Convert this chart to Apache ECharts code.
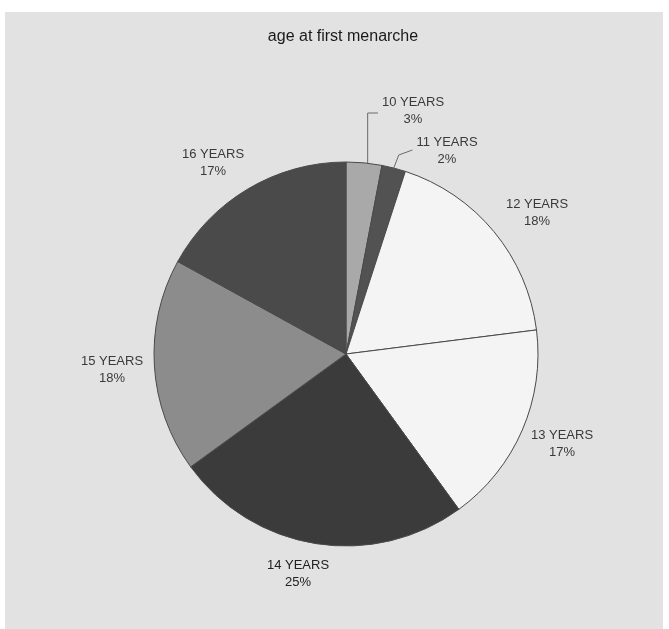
<!DOCTYPE html>
<html>
<head>
<meta charset="utf-8">
<title>age at first menarche</title>
<script src="https://cdn.jsdelivr.net/npm/echarts@6/dist/echarts.min.js"></script>
<style>
  html, body { margin: 0; padding: 0; background: #ffffff; }
  #chart { width: 669px; height: 629px; }
</style>
</head>
<body>
<div id="chart"></div>
<script>
// Age groups and the share of respondents (percent) in each
const categories = ['10 YEARS', '11 YEARS', '12 YEARS', '13 YEARS', '14 YEARS', '15 YEARS', '16 YEARS'];
const shares = [3, 2, 18, 17, 25, 18, 17];
const titleText = 'age at first menarche';

// Greyscale fills for each slice, in category order
const sliceColors = ['#a9a9a9', '#525252', '#f4f4f4', '#f4f4f4', '#3b3b3b', '#8c8c8c', '#4a4a4a'];

// Pie geometry
const CX = 346, CY = 354, R = 192;

// Label block centres, as offsets from the pie centre
const labelOffset = [
  [67, -243], [101, -203], [191, -141], [216, 90], [-48, 220], [-234, 16], [-133, -191]
];

// Two thin slices get elbow leader lines
const leaderSlices = { 0: true, 1: true };

const total = shares.reduce((a, b) => a + b, 0);
function edgePoint(idx, frac) {
  // point on the rim at a fraction through slice idx (clockwise from 12 o'clock)
  let before = 0;
  for (let i = 0; i < idx; i++) before += shares[i];
  const a = (before + shares[idx] * frac) / total * Math.PI * 2;
  return [CX + R * Math.sin(a), CY - R * Math.cos(a)];
}

const chart = echarts.init(document.getElementById('chart'), null, { renderer: 'canvas' });

const option = {
  backgroundColor: '#ffffff',
  animation: false,
  graphic: [
    {
      type: 'rect', z: -10, silent: true,
      shape: { x: 5, y: 12, width: 658, height: 617 },
      style: { fill: '#e2e2e2' }
    },
    {
      type: 'text', z: 10,
      x: 343, y: 37,
      style: {
        text: titleText,
        align: 'center', verticalAlign: 'middle',
        font: '16px "Liberation Sans", Arial, sans-serif',
        fill: '#1a1a1a'
      }
    }
  ],
  series: [{
    type: 'pie',
    center: [CX, CY],
    radius: R,
    startAngle: 90,
    clockwise: true,
    avoidLabelOverlap: false,
    itemStyle: { borderColor: '#4a4a4a', borderWidth: 1 },
    label: {
      show: true,
      position: 'outside',
      formatter: '{b}\n{c}%',
      fontFamily: '"Liberation Sans", Arial, sans-serif',
      fontSize: 13,
      lineHeight: 17,
      color: '#3a3a3a',
      align: 'center'
    },
    labelLine: { show: false, lineStyle: { color: '#6a6a6a', width: 1 } },
    labelLayout: function (params) {
      const i = params.dataIndex;
      const x = CX + labelOffset[i][0];
      const y = CY + labelOffset[i][1];
      const out = { x: x, y: y, align: 'center', verticalAlign: 'middle' };
      if (leaderSlices[i]) {
        const p = edgePoint(i, i === 0 ? 0.6 : 0.5);
        const left = x - params.labelRect.width / 2 - 4;
        if (i === 0) {
          out.labelLinePoints = [[p[0], p[1]], [p[0], y + 2], [left, y + 2]];
        } else {
          out.labelLinePoints = [[p[0], p[1]], [p[0] + 5, y + 4], [left, y - 1]];
        }
      }
      return out;
    },
    emphasis: { disabled: true },
    data: categories.map((name, i) => ({
      name: name,
      value: shares[i],
      itemStyle: { color: sliceColors[i] },
      label: i === 4 ? { color: '#222222' } : undefined,
      labelLine: leaderSlices[i] ? { show: true } : { show: false }
    }))
  }]
};

chart.setOption(option);
</script>
</body>
</html>
